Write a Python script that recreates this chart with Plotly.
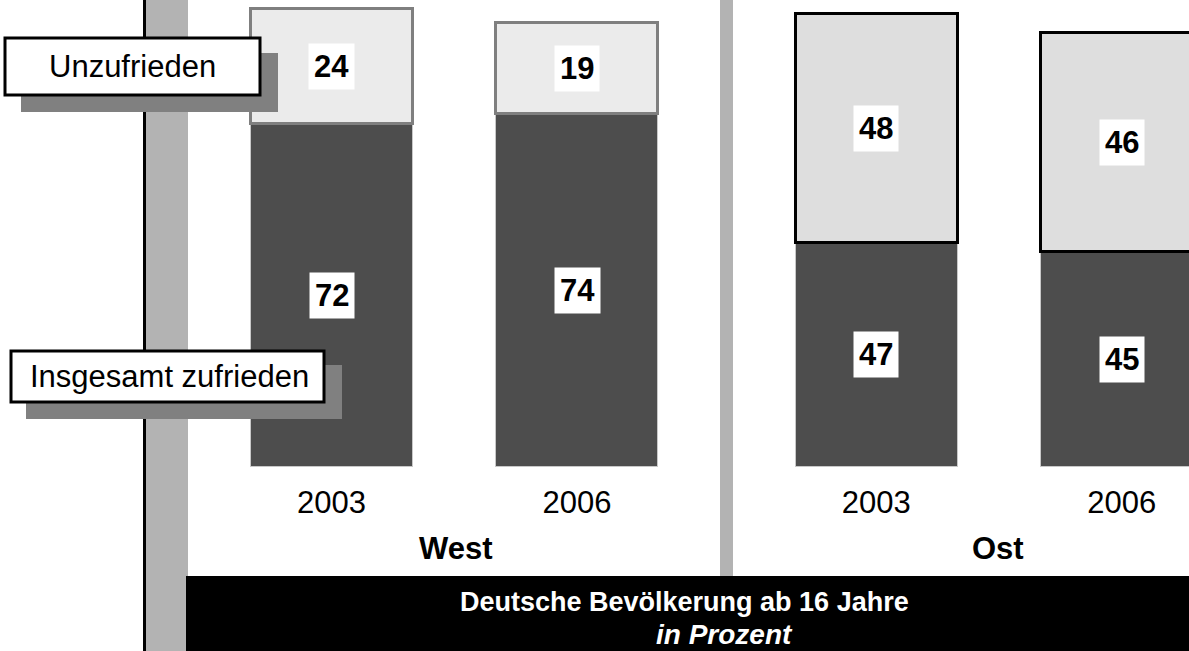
import plotly.graph_objects as go
from plotly.subplots import make_subplots

# ---- data ----
regions = ["West", "Ost"]
years = ["2003", "2006"]
zufrieden = {"West": [72, 74], "Ost": [47, 45]}
unzufrieden = {"West": [24, 19], "Ost": [48, 46]}
series_names = ["Insgesamt zufrieden", "Unzufrieden"]
title_line1 = "Deutsche Bevölkerung ab 16 Jahre"
title_line2 = "in Prozent"

W, H = 1189, 651
FONT = "Liberation Sans, Arial, sans-serif"

def px(x):
    return x / W

def py(y):
    return 1 - y / H

fig = make_subplots(rows=1, cols=2)

dark = "#4d4d4d"
light_fill = {"West": "#ebebeb", "Ost": "#dedede"}
light_line = {"West": "#7f7f7f", "Ost": "#000000"}

for i, reg in enumerate(regions):
    col = i + 1
    fig.add_trace(go.Bar(x=years, y=zufrieden[reg], name=series_names[0], width=0.66,
                         marker=dict(color=dark, line=dict(color="#c8c8c8", width=1)),
                         showlegend=False, hoverinfo="skip"), row=1, col=col)
    fig.add_trace(go.Bar(x=years, y=unzufrieden[reg], name=series_names[1], width=0.66,
                         marker=dict(color=light_fill[reg], line=dict(color=light_line[reg], width=3)),
                         showlegend=False, hoverinfo="skip"), row=1, col=col)

def ann(x, y, text, size=31, color="black", xref="paper", yref="paper", **kw):
    d = dict(x=x, y=y, xref=xref, yref=yref, text=text, showarrow=False,
             xanchor="center", yanchor="middle",
             font=dict(family=FONT, size=size, color=color))
    d.update(kw)
    return d

annotations = []
for i, reg in enumerate(regions):
    xref = "x" if i == 0 else "x2"
    yref = "y" if i == 0 else "y2"
    for j, yr in enumerate(years):
        z = zufrieden[reg][j]
        u = unzufrieden[reg][j]
        for val, base in ((z, 0), (u, z)):
            annotations.append(ann(j, base + val / 2, "<b>%d</b>" % val, xref=xref, yref=yref,
                                   bgcolor="white", borderpad=5))

# group labels
annotations.append(ann(px(456), py(548), "<b>%s</b>" % regions[0]))
annotations.append(ann(px(998), py(548), "<b>%s</b>" % regions[1]))
# title lines
annotations.append(ann(px(684), py(602), "<b>%s</b>" % title_line1, size=27, color="white", borderpad=0))
annotations.append(ann(px(724), py(634), "<b><i>%s</i></b>" % title_line2, size=28, color="white", borderpad=0))
# legend labels
annotations.append(ann(px(132.5), py(66.5), series_names[1]))
annotations.append(ann(px(169), py(376.5), series_names[0]))

def rect(x0, y0, x1, y1, fill, line_color=None, lw=0, layer="below"):
    return dict(type="rect", xref="paper", yref="paper",
                x0=px(x0), x1=px(x1), y0=py(y1), y1=py(y0),
                fillcolor=fill, line=dict(color=line_color or fill, width=lw), layer=layer)

shapes = [
    rect(146, 0, 188, H, "#b3b3b3"),
    rect(143, 0, 146, H, "#000000"),
    rect(720, 0, 733, 576, "#b3b3b3"),
    rect(186, 576, W, H, "#000000"),
    # legend boxes
    rect(21, 53, 278, 112, "#808080", layer="above"),
    rect(5, 38, 260, 95, "#ffffff", "#000000", 3, layer="above"),
    rect(26, 365, 342, 419, "#808080", layer="above"),
    rect(11, 351, 324, 402, "#ffffff", "#000000", 3, layer="above"),
]

ymax = 467 / 4.77
ydom = [(H - 467) / H, 1]
axis_common = dict(showgrid=False, zeroline=False, showline=False, ticks="",
                   tickfont=dict(family=FONT, size=31, color="black"), fixedrange=True)

fig.update_layout(
    width=W, height=H,
    margin=dict(l=0, r=0, t=0, b=0),
    paper_bgcolor="white", plot_bgcolor="rgba(0,0,0,0)",
    barmode="stack", bargap=0,
    showlegend=False,
    shapes=shapes, annotations=annotations,
    xaxis=dict(domain=[px(208.75), px(699.75)], range=[-0.5, 1.5], type="category",
               ticklabelstandoff=14, **axis_common),
    xaxis2=dict(domain=[px(753.5), 1], range=[-0.5, -0.5 + (W - 753.5) / 245.5], type="category",
                ticklabelstandoff=14, **axis_common),
    yaxis=dict(domain=ydom, range=[0, ymax], showticklabels=False, showgrid=False, zeroline=False,
               showline=False, fixedrange=True),
    yaxis2=dict(domain=ydom, range=[0, ymax], showticklabels=False, showgrid=False, zeroline=False,
                showline=False, fixedrange=True),
)

fig.write_html("out.html", config={"displayModeBar": False},
               post_script="document.body.style.margin='0';document.body.style.padding='0';document.body.style.overflow='hidden';")
